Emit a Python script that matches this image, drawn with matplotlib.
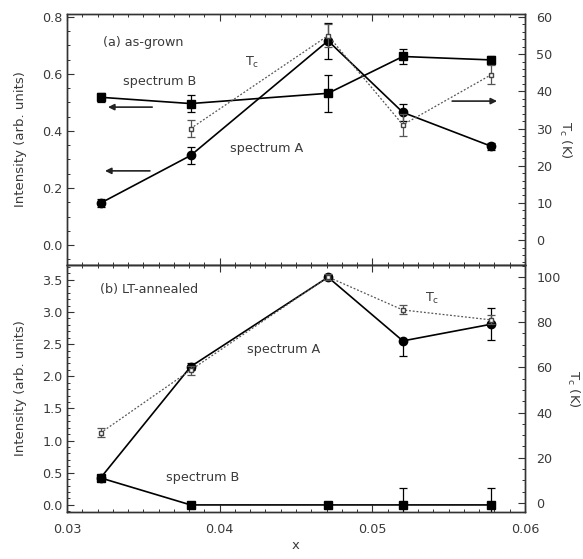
import matplotlib
matplotlib.use("Agg")
import matplotlib.pyplot as plt
from matplotlib.ticker import MultipleLocator

plt.rcParams['font.family'] = ['DejaVu Sans']

# ---- data ----
x = [0.0322, 0.0381, 0.0471, 0.0520, 0.0578]

# (a) as-grown
a_specA = [0.147, 0.314, 0.716, 0.465, 0.346]
a_specA_err = [0.015, 0.029, 0.063, 0.030, 0.012]
a_specB = [0.518, 0.496, 0.532, 0.661, 0.649]
a_specB_err = [0.015, 0.030, 0.064, 0.027, 0.015]
a_tc = [None, 30.0, 55.0, 31.0, 44.5]
a_tc_err = [None, 2.3, 3.0, 3.0, 2.5]

# (b) LT-annealed
b_specA = [0.42, 2.15, 3.54, 2.55, 2.81]
b_specA_err_lo = [0.05, 0.05, 0.03, 0.24, 0.25]
b_specA_err_hi = [0.05, 0.05, 0.03, 0.02, 0.25]
b_specB = [0.42, 0.0, 0.0, 0.0, 0.0]
b_specB_err = [0.05, 0.03, 0.02, 0.26, 0.26]
b_tc = [31.0, 58.8, 100.0, 85.4, 81.0]
b_tc_err = [2.0, 2.0, 1.5, 2.0, 2.0]

txtc = '#3a3a3a'
fig = plt.figure(figsize=(5.83, 5.59), dpi=100)
W, H = 583, 559
x0, x1 = 67, 525
axa = fig.add_axes([x0 / W, 1 - 265 / H, (x1 - x0) / W, 251 / H])
axb = fig.add_axes([x0 / W, 1 - 512 / H, (x1 - x0) / W, 247 / H])
axa2 = axa.twinx()
axb2 = axb.twinx()

lw = 1.2
ekw = dict(elinewidth=0.9, capsize=3, capthick=0.9)

# panel a
axa.errorbar(x, a_specA, yerr=a_specA_err, color='black', lw=lw, marker='o', ms=6, **ekw)
axa.errorbar(x, a_specB, yerr=a_specB_err, color='black', lw=lw, marker='s', ms=6, **ekw)
xa_tc = [xi for xi, v in zip(x, a_tc) if v is not None]
ya_tc = [v for v in a_tc if v is not None]
ea_tc = [v for v in a_tc_err if v is not None]
axa2.errorbar(xa_tc, ya_tc, yerr=ea_tc, color='#555555', lw=0.9, ls=(0, (1.5, 1.5)),
              marker='s', ms=3.5, mfc='white', mec='#444444', **ekw)

# panel b
axb.errorbar(x, b_specA, yerr=[b_specA_err_lo, b_specA_err_hi], color='black', lw=lw, marker='o', ms=6, **ekw)
axb.errorbar(x, b_specB, yerr=b_specB_err, color='black', lw=lw, marker='s', ms=6, **ekw)
axb2.errorbar(x, b_tc, yerr=b_tc_err, color='#555555', lw=0.9, ls=(0, (1.5, 1.5)),
              marker='s', ms=3.5, mfc='white', mec='#444444', **ekw)

# limits
for ax in (axa, axb):
    ax.set_xlim(0.03, 0.06)
axa.set_ylim(-0.07, 0.81)
axa2.set_ylim(-6.7, 60.8)
axb.set_ylim(-0.11, 3.73)
axb2.set_ylim(-4, 105.3)

# ticks
axa.yaxis.set_major_locator(MultipleLocator(0.2))
axa.yaxis.set_minor_locator(MultipleLocator(0.05))
axa2.yaxis.set_major_locator(MultipleLocator(10))
axa2.yaxis.set_minor_locator(MultipleLocator(2))
axb.yaxis.set_major_locator(MultipleLocator(0.5))
axb.yaxis.set_minor_locator(MultipleLocator(0.1))
axb2.yaxis.set_major_locator(MultipleLocator(20))
axb2.yaxis.set_minor_locator(MultipleLocator(5))
tfs = 9.2
for ax in (axa, axb):
    ax.xaxis.set_major_locator(MultipleLocator(0.01))
    ax.xaxis.set_minor_locator(MultipleLocator(0.001))
    ax.tick_params(which='both', direction='in', top=True, right=False, labelsize=tfs, labelcolor=txtc, colors='#333333')
    ax.tick_params(which='major', length=5, width=0.8)
    ax.tick_params(which='minor', length=2.5, width=0.7)
    ax.tick_params(axis='y', pad=3)
    ax.tick_params(axis='x', pad=8)
for ax in (axa2, axb2):
    ax.tick_params(which='both', direction='in', labelsize=tfs, labelcolor=txtc, colors='#333333', pad=8)
    ax.tick_params(which='major', length=5, width=0.8)
    ax.tick_params(which='minor', length=2.5, width=0.7)
axa.tick_params(labelbottom=False)
axb.xaxis.set_major_formatter(plt.FuncFormatter(lambda v, p: f"{v:.2f}"))
axa.yaxis.set_major_formatter(plt.FuncFormatter(lambda v, p: f"{v:.1f}"))
axb.yaxis.set_major_formatter(plt.FuncFormatter(lambda v, p: f"{v:.1f}"))

for ax in (axa, axb, axa2, axb2):
    for s in ax.spines.values():
        s.set_color('#333333')
        s.set_linewidth(1.0)

# labels
lfs = 9.5
axa.set_ylabel('Intensity (arb. units)', fontsize=lfs, color=txtc, labelpad=11)
axb.set_ylabel('Intensity (arb. units)', fontsize=lfs, color=txtc, labelpad=11)
axa2.set_ylabel(r'T$_\mathrm{c}$ (K)', fontsize=9.5, color=txtc, rotation=270, labelpad=15)
axb2.set_ylabel(r'T$_\mathrm{c}$ (K)', fontsize=9.5, color=txtc, rotation=270, labelpad=15)
axb.set_xlabel('x', fontsize=lfs, color=txtc, labelpad=2)

# annotations
fs = 9.2
axa.text(0.079, 0.888, '(a) as-grown', transform=axa.transAxes, fontsize=fs, color=txtc, va='center')
axa.text(0.122, 0.733, 'spectrum B', transform=axa.transAxes, fontsize=fs, color=txtc, va='center')
axa.text(0.356, 0.466, 'spectrum A', transform=axa.transAxes, fontsize=fs, color=txtc, va='center')
axa.text(0.389, 0.805, r'T$_\mathrm{c}$', transform=axa.transAxes, fontsize=fs, color=txtc, va='center')
axb.text(0.072, 0.899, '(b) LT-annealed', transform=axb.transAxes, fontsize=fs, color=txtc, va='center')
axb.text(0.393, 0.656, 'spectrum A', transform=axb.transAxes, fontsize=fs, color=txtc, va='center')
axb.text(0.216, 0.138, 'spectrum B', transform=axb.transAxes, fontsize=fs, color=txtc, va='center')
axb.text(0.782, 0.866, r'T$_\mathrm{c}$', transform=axb.transAxes, fontsize=fs, color=txtc, va='center')

arw = dict(arrowstyle='-|>', color='#222222', lw=1.2, mutation_scale=9, shrinkA=0, shrinkB=0)
axa2.annotate('', xy=(0.0895, 0.629), xytext=(0.186, 0.629), xycoords='axes fraction', textcoords='axes fraction', arrowprops=arw)
axa2.annotate('', xy=(0.083, 0.375), xytext=(0.181, 0.375), xycoords='axes fraction', textcoords='axes fraction', arrowprops=arw)
axa2.annotate('', xy=(0.939, 0.653), xytext=(0.841, 0.653), xycoords='axes fraction', textcoords='axes fraction', arrowprops=arw)

fig.savefig('out.png', dpi=100)
